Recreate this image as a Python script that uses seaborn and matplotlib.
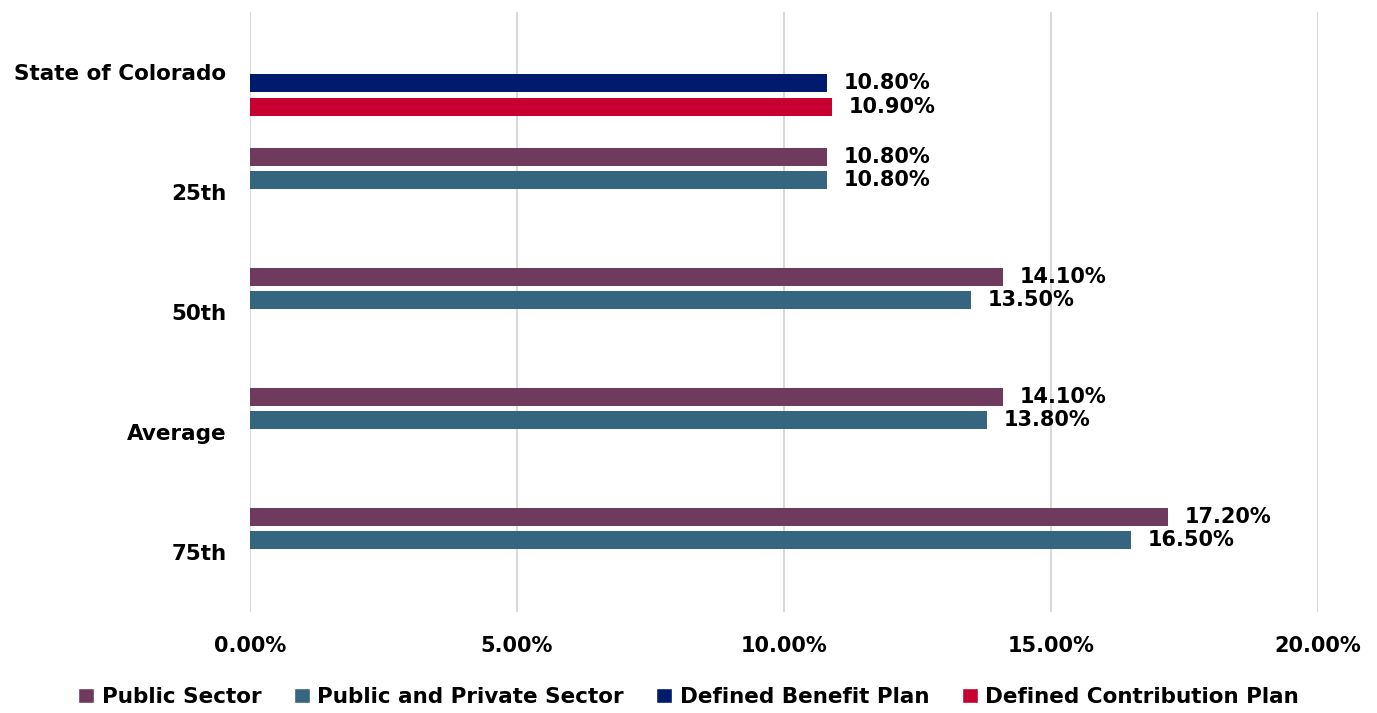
import pandas as pd
import numpy as np
import matplotlib.pyplot as plt
import seaborn as sns
from matplotlib.ticker import PercentFormatter
from matplotlib.patches import Patch

# data (fractions)
categories = ['State of Colorado', '25th', '50th', 'Average', '75th']
series = ['Public Sector', 'Public and Private Sector',
          'Defined Benefit Plan', 'Defined Contribution Plan']
public_sector = [None, 0.108, 0.141, 0.141, 0.172]
public_private = [None, 0.108, 0.135, 0.138, 0.165]
defined_benefit = [0.108, None, None, None, None]
defined_contrib = [0.109, None, None, None, None]
colors = ['#6E3A5E', '#35657F', '#001A6E', '#C70032']

rows = []
for name, vals in zip(series, [public_sector, public_private,
                               defined_benefit, defined_contrib]):
    for cat, v in zip(categories, vals):
        if v is not None:
            rows.append({'Category': cat, 'Series': name, 'Value': v})
df = pd.DataFrame(rows)

sns.set_theme(style='white')
plt.rcParams['font.family'] = ['DejaVu Sans']
plt.rcParams['font.weight'] = 'bold'
plt.rcParams['text.color'] = '#000000'
plt.rcParams['xtick.color'] = '#000000'
plt.rcParams['ytick.color'] = '#000000'

fig = plt.figure(figsize=(13.77, 7.13), dpi=100)
ax = fig.add_axes([250 / 1377, 1 - 611.5 / 713, (1318 - 250) / 1377, 599.5 / 713])

sns.barplot(data=df, y='Category', x='Value', hue='Series',
            order=categories, hue_order=series, palette=colors,
            orient='y', width=0.77, gap=0.22, saturation=1,
            linewidth=0, ax=ax, legend=False)

for c in ax.containers:
    ax.bar_label(c, fmt='{:.2%}', padding=12, fontsize=15,
                 fontweight='bold', color='#000000')

ax.set_xlim(0, 0.2)
ax.set_xticks([0, 0.05, 0.10, 0.15, 0.20])
ax.xaxis.set_major_formatter(PercentFormatter(xmax=1, decimals=2))
ax.grid(axis='x', color='#D9D9D9', linewidth=1.5)
ax.set_axisbelow(True)
for s in ax.spines.values():
    s.set_visible(False)
ax.set_xlabel('')
ax.set_ylabel('')
ax.tick_params(axis='x', labelsize=15, pad=18, length=0)
ax.tick_params(axis='y', labelsize=15.5, pad=17, length=0)
for lab in ax.get_xticklabels() + ax.get_yticklabels():
    lab.set_fontweight('bold')

handles = [Patch(facecolor=col, label=s) for s, col in zip(series, colors)]
fig.legend(handles=handles, loc='center', bbox_to_anchor=(0.5, 1 - 697 / 713),
           ncol=4, frameon=False, handlelength=0.75,
           handleheight=0.75, handletextpad=0.35, columnspacing=1.5,
           prop={'weight': 'bold', 'size': 15.5})

fig.savefig('out.png', dpi=100)
